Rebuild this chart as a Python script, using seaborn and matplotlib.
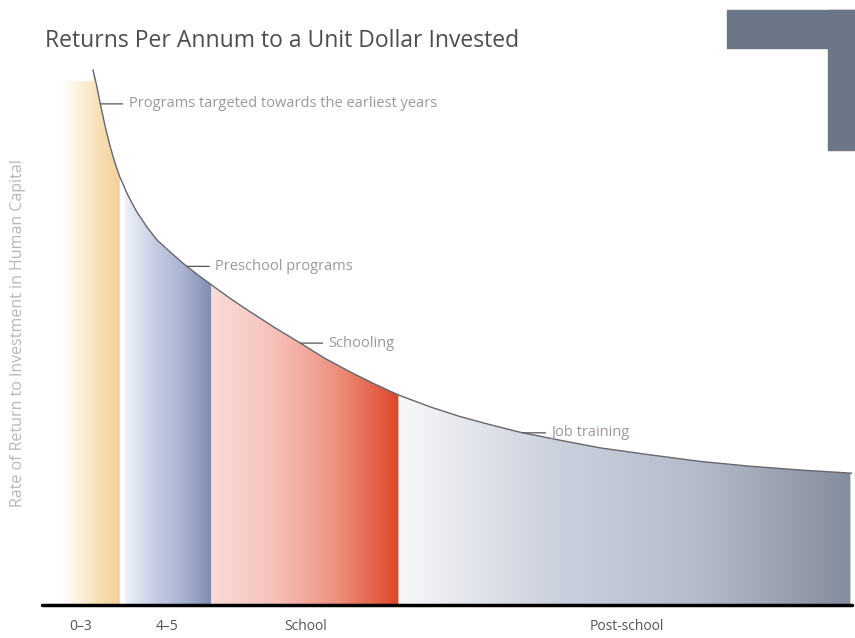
import numpy as np
import pandas as pd
import matplotlib.pyplot as plt
import seaborn as sns
from matplotlib.colors import LinearSegmentedColormap
from matplotlib.patches import Rectangle

# curve: return per unit dollar vs. age (arbitrary units 0-100)
curve_x = [6.3, 6.7, 7.2, 7.8, 8.4, 9.0, 9.6, 10.6, 11.7, 13.0, 14.2, 15.8, 17.4,
           19.1, 21.0, 23.2, 25.7, 28.8, 31.9, 34.9, 38.0, 41.1, 44.0, 47.9, 51.6,
           55.3, 59.0, 64.0, 68.9, 75.1, 81.2, 87.4, 93.6, 100.0]
curve_y = [99.1, 96.5, 92.8, 88.6, 85.0, 81.9, 79.3, 75.9, 72.8, 69.9, 67.6, 65.4,
           63.3, 61.3, 59.2, 56.8, 54.3, 51.3, 48.5, 45.7, 43.2, 40.9, 38.9, 36.7,
           34.9, 33.4, 32.0, 30.5, 29.1, 27.8, 26.6, 25.7, 25.0, 24.4]

band_labels = ["0\u20133", "4\u20135", "School", "Post-school"]
band_start = [2.5, 10.2, 21.0, 44.1]
band_end = [9.6, 20.9, 44.0, 99.8]
label_pos = [4.8, 15.4, 32.5, 72.2]

notes = ["Programs targeted towards the earliest years", "Preschool programs",
         "Schooling", "Job training"]
note_x = [7.2, 17.9, 31.9, 59.4]

band_colors = [
    ["#ffffff", "#fcefd8", "#f8dfb2", "#f4d096"],
    ["#eef1f8", "#c7cfe5", "#a9b2d2", "#7f8cb0"],
    ["#f9dcd9", "#f6c2ba", "#ee917f", "#df4528"],
    ["#f8f8f9", "#cdd2df", "#b5bbca", "#848d9d"],
]

sns.set_style("white")
plt.rcParams["font.family"] = ["Open Sans", "DejaVu Sans"]

df = pd.DataFrame({"age": curve_x, "ret": curve_y})

fig = plt.figure(figsize=(8.55, 6.38), dpi=100)
ax = fig.add_axes([42 / 855, 33 / 638, 810 / 855, 540 / 638])
ax.set_xlim(0, 100)
ax.set_ylim(0, 100)

for x0, x1, cols in zip(band_start, band_end, band_colors):
    xs = np.linspace(x0, x1, 200)
    top = np.interp(xs, curve_x, curve_y, left=97.0)
    poly = ax.fill_between(xs, 0, top, facecolor="none", edgecolor="none")
    cmap = LinearSegmentedColormap.from_list("g", cols)
    grad = np.linspace(0, 1, 256).reshape(1, -1)
    im = ax.imshow(grad, cmap=cmap, aspect="auto", extent=[x0, x1, 0, 100],
                   origin="lower", zorder=1)
    im.set_clip_path(poly.get_paths()[0], transform=ax.transData)

sns.lineplot(data=df, x="age", y="ret", ax=ax, color="#66666e", linewidth=1.0,
             zorder=3)

for txt, nx in zip(notes, note_x):
    ny = np.interp(nx, curve_x, curve_y)
    ax.annotate(txt, xy=(nx, ny), xytext=(nx + 3.5, ny), va="center", ha="left",
                fontsize=10.5, color="#a0969f",
                arrowprops=dict(arrowstyle="-", color="#555555", lw=0.9,
                                shrinkA=2, shrinkB=0))

ax.axhline(0, color="black", lw=2.5, zorder=4, clip_on=False)
sns.despine(ax=ax, left=True, bottom=True)
ax.set_xticks(label_pos)
ax.set_xticklabels(band_labels, fontsize=10, color="#555555")
ax.tick_params(axis="x", length=0, pad=10)
ax.set_yticks([])
ax.set_xlabel("")
ax.set_ylabel("")

fig.text(18 / 855, 1 - 333 / 638, "Rate of Return to Investment in Human Capital",
         rotation=90, va="center", ha="center", fontsize=11.5, color="#b8b8b8")
fig.text(45 / 855, 1 - 47 / 638, "Returns Per Annum to a Unit Dollar Invested",
         fontsize=16.5, color="#4d4d4d", va="baseline", ha="left")

# grey corner mark at top right
fig.add_artist(Rectangle((727 / 855, 1 - 48 / 638), 128 / 855, 38 / 638,
                         transform=fig.transFigure, color="#6d7686"))
fig.add_artist(Rectangle((828 / 855, 1 - 150 / 638), 27 / 855, 140 / 638,
                         transform=fig.transFigure, color="#6d7686"))

fig.savefig("out.png", dpi=100)
